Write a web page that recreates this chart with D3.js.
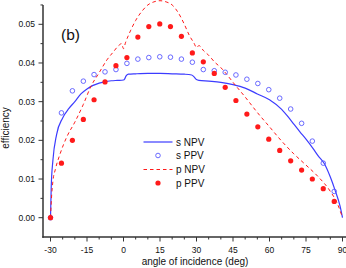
<!DOCTYPE html>
<html><head><meta charset="utf-8">
<script src="https://cdn.jsdelivr.net/npm/d3@7"></script>
<style>
html,body{margin:0;padding:0;background:#fff;}
svg{display:block;font-family:"Liberation Sans",Arial,sans-serif;}
</style></head>
<body>
<svg id="chart" width="346" height="268"></svg>
<script>
// ---- data ----
const xTicks = [-30, -15, 0, 15, 30, 45, 60, 75, 90];
const yTicks = [0.00, 0.01, 0.02, 0.03, 0.04, 0.05];
const seriesNames = ["s NPV", "s PPV", "p NPV", "p PPV"];

// curves (angle, efficiency)
const sNPV_angle = [-30, -29.7, -29, -27.5, -25, -22.5, -20, -17.5, -15, -12.5, -10, -7.5, -5, -2.5, 0, 0.5, 1, 2, 5, 10, 15, 20, 25, 28, 29, 30, 31, 35, 40, 45, 50, 55, 60, 65, 68, 70, 72.5, 75, 78, 80, 82.5, 85, 87, 89, 90];
const sNPV_value = [0, 0.0080, 0.0149, 0.0215, 0.0258, 0.0282, 0.0300, 0.0320, 0.0333, 0.0342, 0.0348, 0.0352, 0.0354, 0.0355, 0.0356, 0.0359, 0.0366, 0.0371, 0.0372, 0.0373, 0.0373, 0.0372, 0.0371, 0.0369, 0.0364, 0.0357, 0.0355, 0.0353, 0.0350, 0.0344, 0.0335, 0.0320, 0.0305, 0.0280, 0.0258, 0.0242, 0.0222, 0.0203, 0.0178, 0.0160, 0.0140, 0.0105, 0.0070, 0.0030, 0];

const pNPV_angle = [-30, -29.5, -29, -28, -26, -23.3, -20, -16.5, -13.5, -10, -6.8, -4, -2, -0.8, 0, 0.8, 3, 5, 8, 10, 12.5, 15, 17.5, 20, 22.5, 25, 27, 29, 30, 31, 33, 35, 37.5, 40, 42.5, 45, 50, 55, 60, 65, 70, 75, 80, 85, 88, 90];
const pNPV_value = [0, 0.0060, 0.0095, 0.0125, 0.0166, 0.0209, 0.0247, 0.0293, 0.0338, 0.0375, 0.0408, 0.0430, 0.0445, 0.0450, 0.0437, 0.0452, 0.0485, 0.0510, 0.0537, 0.0550, 0.0558, 0.0561, 0.0558, 0.0550, 0.0530, 0.0500, 0.0472, 0.0451, 0.0440, 0.0445, 0.0431, 0.0420, 0.0402, 0.0388, 0.0370, 0.0350, 0.0312, 0.0272, 0.0235, 0.0198, 0.0165, 0.0136, 0.0106, 0.0068, 0.0035, 0];

// symbols
const ppvAngle = [-30, -25.5, -21.0, -16.5, -12.1, -7.6, -3.1, 1.4, 5.9, 10.4, 14.9, 19.3, 23.8, 28.3, 32.8, 37.3, 41.8, 46.2, 50.7, 55.2, 59.7, 64.2, 68.7, 73.2, 77.6, 82.1, 86.6];
const sPPV_value = [0, 0.0271, 0.0328, 0.0353, 0.0370, 0.0377, 0.0383, 0.0399, 0.0410, 0.0414, 0.0416, 0.0415, 0.0410, 0.0402, 0.0383, 0.0380, 0.0376, 0.0369, 0.0358, 0.0347, 0.0331, 0.0309, 0.0281, 0.0244, 0.0198, 0.0141, 0.0068];
const pPPV_value = [0, 0.0141, 0.0200, 0.0254, 0.0305, 0.0351, 0.0393, 0.0414, 0.0467, 0.0494, 0.0501, 0.0494, 0.0469, 0.0426, 0.0403, 0.0373, 0.0337, 0.0303, 0.0268, 0.0235, 0.0203, 0.0174, 0.0147, 0.0123, 0.0100, 0.0075, 0.0042];

// ---- drawing ----
const svg = d3.select("#chart");
const x = d3.scaleLinear().domain([-30, 90]).range([50.5, 342.5]);
const y = d3.scaleLinear().domain([0, 0.05]).range([217.7, 24.3]);
const axisColor = "#333";
const blue = "#3c3cff";
const red = "#ff1a1a";

// axes lines
const xLeft = 43, yBottom = 237, yTop = 5;
svg.append("line").attr("x1", xLeft).attr("x2", xLeft).attr("y1", yTop).attr("y2", yBottom + 0.75)
  .attr("stroke", axisColor).attr("stroke-width", 1.5);
svg.append("line").attr("x1", xLeft - 0.75).attr("x2", 346).attr("y1", yBottom).attr("y2", yBottom)
  .attr("stroke", axisColor).attr("stroke-width", 1.5);

// x ticks
const xMinor = d3.range(-30, 91, 5);
svg.selectAll(".xt").data(xMinor).enter().append("line")
  .attr("x1", d => x(d)).attr("x2", d => x(d))
  .attr("y1", yBottom).attr("y2", d => yBottom + (d % 15 === 0 ? 4.5 : 2.5))
  .attr("stroke", axisColor).attr("stroke-width", 1);
svg.selectAll(".xl").data(xTicks).enter().append("text")
  .attr("x", d => x(d)).attr("y", 253)
  .attr("text-anchor", "middle").attr("font-size", 8.5).attr("fill", "#111")
  .text(d => d);

// y ticks
const yMinor = d3.range(0, 0.0551, 0.005);
svg.selectAll(".yt").data(yMinor).enter().append("line")
  .attr("x1", xLeft).attr("x2", (d, i) => xLeft - (i % 2 === 0 ? 4.5 : 2.5))
  .attr("y1", d => y(d)).attr("y2", d => y(d))
  .attr("stroke", axisColor).attr("stroke-width", 1);
svg.selectAll(".yl").data(yTicks).enter().append("text")
  .attr("x", 35).attr("y", d => y(d) + 3)
  .attr("text-anchor", "end").attr("font-size", 8.5).attr("fill", "#111")
  .text(d => d.toFixed(2));

// axis titles
svg.append("text").attr("x", 195).attr("y", 265).attr("text-anchor", "middle")
  .attr("font-size", 10).attr("fill", "#111").text("angle of incidence (deg)");
svg.append("text").attr("transform", "translate(9,128) rotate(-90)").attr("text-anchor", "middle")
  .attr("font-size", 10).attr("fill", "#111").text("efficiency");

// panel label
svg.append("text").attr("x", 61).attr("y", 39.5).attr("font-size", 15.5).attr("fill", "#111").text("(b)");

// curves
const line = d3.line().x(d => x(d[0])).y(d => y(d[1])).curve(d3.curveMonotoneX);
const sNPV = sNPV_angle.map((a, i) => [a, sNPV_value[i]]);
const pNPV = pNPV_angle.map((a, i) => [a, pNPV_value[i]]);
svg.append("path").attr("d", line(sNPV)).attr("fill", "none").attr("stroke", blue).attr("stroke-width", 1.2);
svg.append("path").attr("d", line(pNPV)).attr("fill", "none").attr("stroke", red).attr("stroke-width", 1)
  .attr("stroke-dasharray", "3.5,3");

// symbols
svg.selectAll(".sppv").data(ppvAngle).enter().append("circle")
  .attr("cx", d => x(d)).attr("cy", (d, i) => y(sPPV_value[i])).attr("r", 2.3)
  .attr("fill", "none").attr("stroke", "#5a5aff").attr("stroke-width", 0.9);
svg.selectAll(".pppv").data(ppvAngle).enter().append("circle")
  .attr("cx", d => x(d)).attr("cy", (d, i) => y(pPPV_value[i])).attr("r", 2.6)
  .attr("fill", red);

// legend
const lg = svg.append("g");
const rows = [142, 155.5, 169.5, 183];
lg.append("line").attr("x1", 143.5).attr("x2", 172.5).attr("y1", rows[0]).attr("y2", rows[0])
  .attr("stroke", blue).attr("stroke-width", 1.2);
lg.append("circle").attr("cx", 158).attr("cy", rows[1]).attr("r", 2.3)
  .attr("fill", "none").attr("stroke", "#5a5aff").attr("stroke-width", 0.9);
lg.append("line").attr("x1", 143.5).attr("x2", 172.5).attr("y1", rows[2]).attr("y2", rows[2])
  .attr("stroke", red).attr("stroke-width", 1).attr("stroke-dasharray", "3.5,3");
lg.append("circle").attr("cx", 158).attr("cy", rows[3]).attr("r", 2.6).attr("fill", red);
seriesNames.forEach((n, i) => {
  lg.append("text").attr("x", 176).attr("y", rows[i] + 3.5).attr("font-size", 10)
    .attr("fill", "#111").text(n);
});
</script>
</body></html>
